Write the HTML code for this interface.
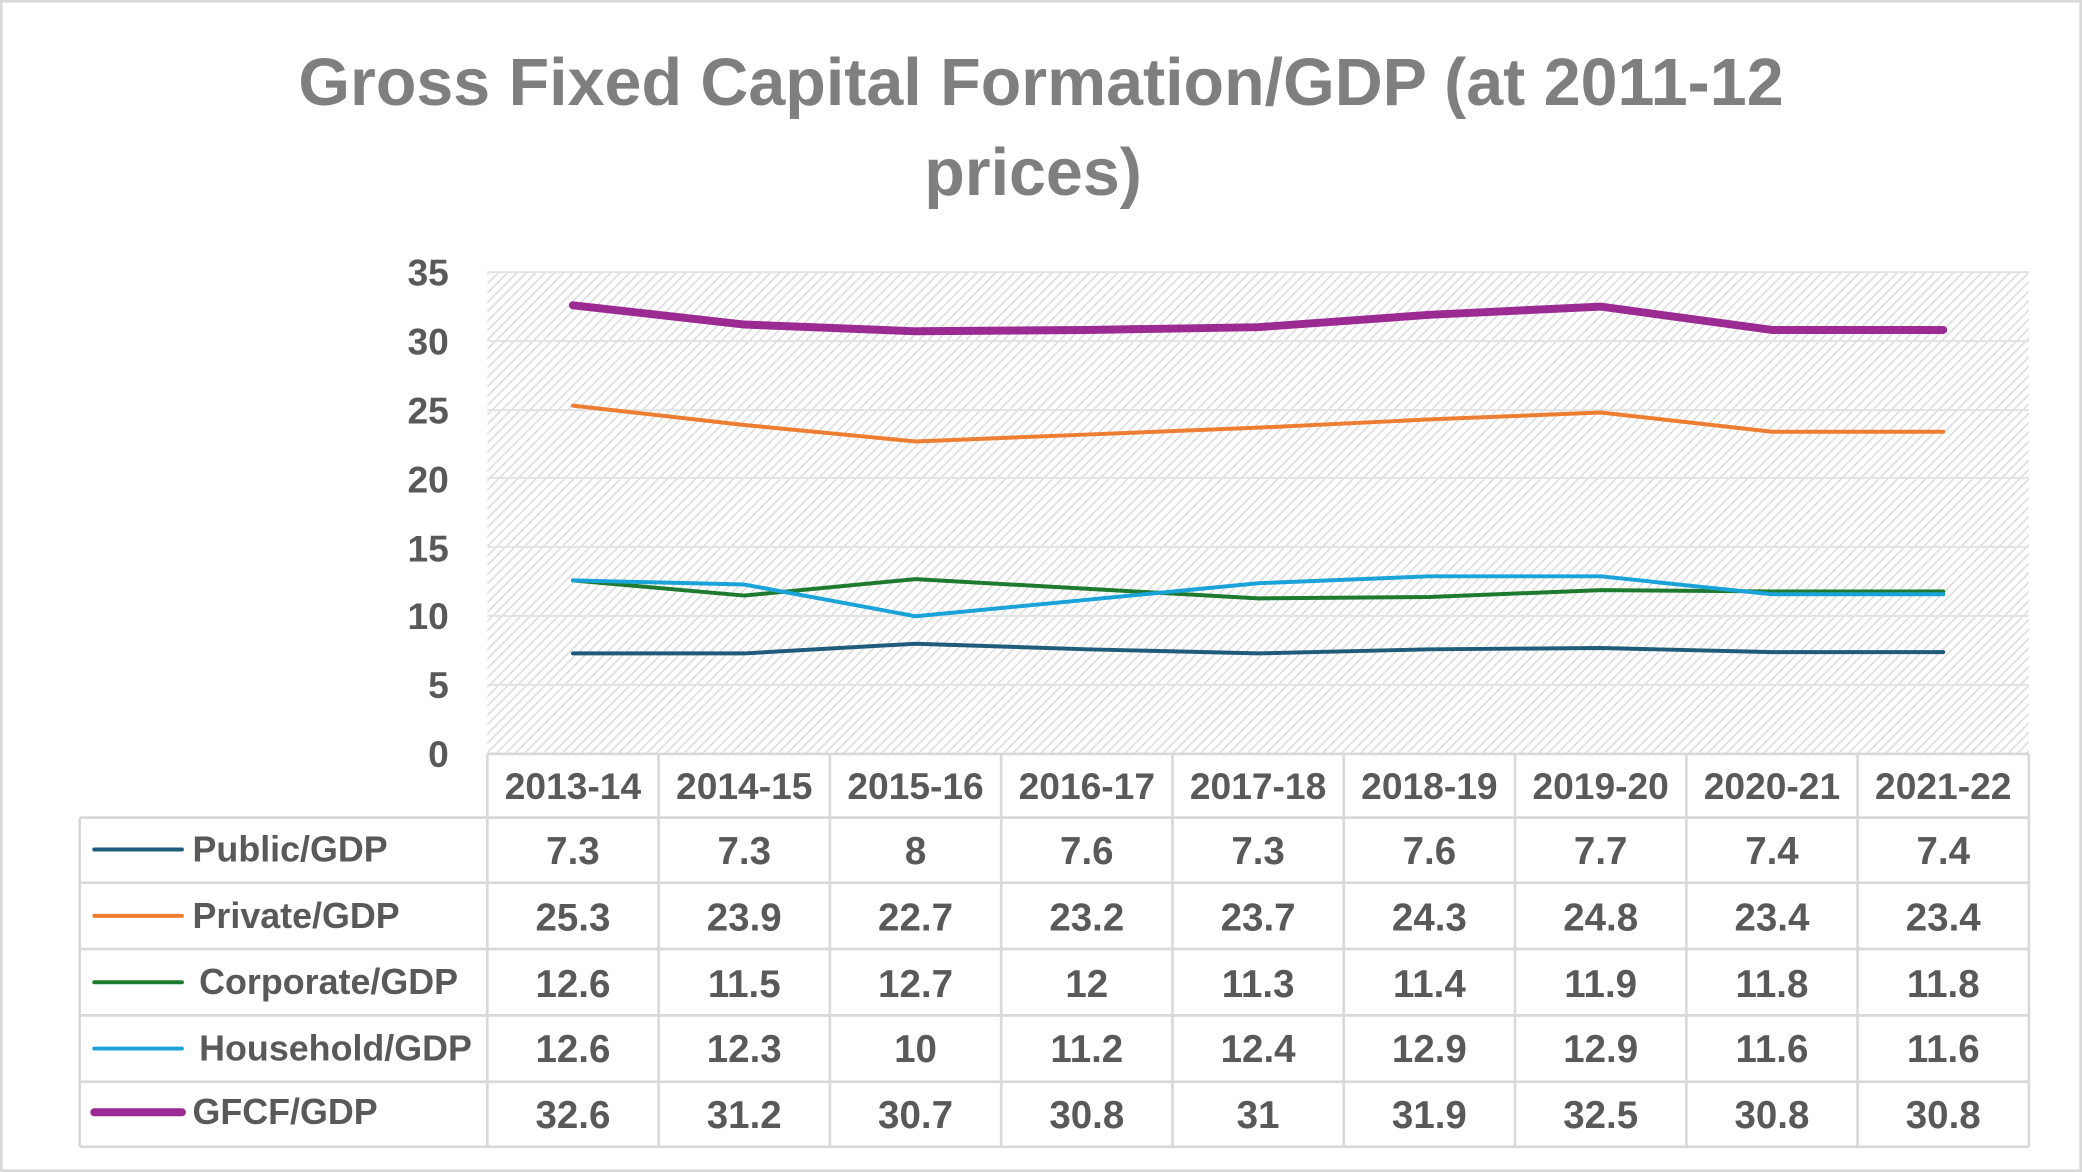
<!DOCTYPE html>
<html><head><meta charset="utf-8"><style>
html,body{margin:0;padding:0;background:#fff}
svg{display:block}
text{font-family:"Liberation Sans",Arial,sans-serif;font-weight:bold;fill:#595959}
</style></head><body>
<svg width="2082" height="1172" viewBox="0 0 1568 883" preserveAspectRatio="none" xmlns="http://www.w3.org/2000/svg">
<defs>
<pattern id="h" width="5" height="5" patternUnits="userSpaceOnUse" patternTransform="rotate(45)">
<rect width="5" height="5" fill="#fff"/><rect width="1.2" height="5" fill="#dcdcdc"/>
</pattern>
</defs>
<rect x="1" y="1" width="1566" height="881" fill="#fff" stroke="#d9d9d9" stroke-width="2"/>
<text x="784" y="79" font-size="50" text-anchor="middle" style="fill:#7f7f7f">Gross Fixed Capital Formation/GDP (at 2011-12</text>
<text x="778" y="147" font-size="50" text-anchor="middle" style="fill:#7f7f7f">prices)</text>
<rect x="367" y="205" width="1161" height="363" fill="url(#h)"/>
<g stroke="#e3e3e3" stroke-width="1.5">
<line x1="367" y1="205" x2="1528" y2="205"/><line x1="367" y1="257" x2="1528" y2="257"/>
<line x1="367" y1="309" x2="1528" y2="309"/><line x1="367" y1="360" x2="1528" y2="360"/>
<line x1="367" y1="412" x2="1528" y2="412"/><line x1="367" y1="464" x2="1528" y2="464"/>
<line x1="367" y1="516" x2="1528" y2="516"/>
</g>
<g font-size="28" text-anchor="end">
<text x="338" y="215">35</text><text x="338" y="267">30</text><text x="338" y="319">25</text>
<text x="338" y="371">20</text><text x="338" y="423">15</text><text x="338" y="474">10</text>
<text x="338" y="526">5</text><text x="338" y="578">0</text>
</g>
<g fill="none" stroke-linejoin="round" stroke-linecap="round">
<polyline stroke="#1f5c7a" stroke-width="3" points="431.5,492.3 560.5,492.3 689.5,485 818.5,489.2 947.5,492.3 1076.5,489.2 1205.5,488.2 1334.5,491.3 1463.5,491.3"/>
<polyline stroke="#ed7d31" stroke-width="3" points="431.5,305.6 560.5,320.2 689.5,332.6 818.5,327.4 947.5,322.2 1076.5,316 1205.5,310.8 1334.5,325.3 1463.5,325.3"/>
<polyline stroke="#1e7a2e" stroke-width="3" points="431.5,437.3 560.5,448.7 689.5,436.3 818.5,443.6 947.5,450.8 1076.5,449.8 1205.5,444.6 1334.5,445.6 1463.5,445.6"/>
<polyline stroke="#1aa3d9" stroke-width="3" points="431.5,437.3 560.5,440.4 689.5,464.3 818.5,451.9 947.5,439.4 1076.5,434.2 1205.5,434.2 1334.5,447.7 1463.5,447.7"/>
<polyline stroke="#9b2a93" stroke-width="6" points="431.5,230 560.5,244.5 689.5,249.6 818.5,248.6 947.5,246.5 1076.5,237.2 1205.5,231 1334.5,248.6 1463.5,248.6"/>
</g>
<g stroke="#d9d9d9" stroke-width="2" fill="none">
<line x1="367" y1="568" x2="1528" y2="568"/>
<line x1="60" y1="616" x2="1528" y2="616"/><line x1="60" y1="665" x2="1528" y2="665"/>
<line x1="60" y1="715" x2="1528" y2="715"/><line x1="60" y1="765" x2="1528" y2="765"/>
<line x1="60" y1="815" x2="1528" y2="815"/><line x1="60" y1="864" x2="1528" y2="864"/>
<line x1="60" y1="616" x2="60" y2="864"/>
<line x1="367" y1="568" x2="367" y2="864"/><line x1="496" y1="568" x2="496" y2="864"/>
<line x1="625" y1="568" x2="625" y2="864"/><line x1="754" y1="568" x2="754" y2="864"/>
<line x1="883" y1="568" x2="883" y2="864"/><line x1="1012" y1="568" x2="1012" y2="864"/>
<line x1="1141" y1="568" x2="1141" y2="864"/><line x1="1270" y1="568" x2="1270" y2="864"/>
<line x1="1399" y1="568" x2="1399" y2="864"/><line x1="1528" y1="568" x2="1528" y2="864"/>
</g>
<g font-size="28" text-anchor="middle">
<text x="431.5" y="602">2013-14</text><text x="560.5" y="602">2014-15</text><text x="689.5" y="602">2015-16</text>
<text x="818.5" y="602">2016-17</text><text x="947.5" y="602">2017-18</text><text x="1076.5" y="602">2018-19</text>
<text x="1205.5" y="602">2019-20</text><text x="1334.5" y="602">2020-21</text><text x="1463.5" y="602">2021-22</text>
</g>
<g stroke-linecap="round">
<line x1="71" y1="640" x2="137" y2="640" stroke="#1f5c7a" stroke-width="3"/>
<line x1="71" y1="690" x2="137" y2="690" stroke="#ed7d31" stroke-width="3"/>
<line x1="71" y1="740" x2="137" y2="740" stroke="#1e7a2e" stroke-width="3"/>
<line x1="71" y1="790" x2="137" y2="790" stroke="#1aa3d9" stroke-width="3"/>
<line x1="71" y1="838" x2="137" y2="838" stroke="#9b2a93" stroke-width="6"/>
</g>
<g font-size="27">
<text x="145" y="649">Public/GDP</text><text x="145" y="699">Private/GDP</text>
<text x="150" y="749">Corporate/GDP</text><text x="150" y="799">Household/GDP</text>
<text x="145" y="847">GFCF/GDP</text>
</g>
<g font-size="29" text-anchor="middle">
<text x="431.5" y="651">7.3</text><text x="560.5" y="651">7.3</text><text x="689.5" y="651">8</text><text x="818.5" y="651">7.6</text><text x="947.5" y="651">7.3</text><text x="1076.5" y="651">7.6</text><text x="1205.5" y="651">7.7</text><text x="1334.5" y="651">7.4</text><text x="1463.5" y="651">7.4</text>
<text x="431.5" y="701">25.3</text><text x="560.5" y="701">23.9</text><text x="689.5" y="701">22.7</text><text x="818.5" y="701">23.2</text><text x="947.5" y="701">23.7</text><text x="1076.5" y="701">24.3</text><text x="1205.5" y="701">24.8</text><text x="1334.5" y="701">23.4</text><text x="1463.5" y="701">23.4</text>
<text x="431.5" y="751">12.6</text><text x="560.5" y="751">11.5</text><text x="689.5" y="751">12.7</text><text x="818.5" y="751">12</text><text x="947.5" y="751">11.3</text><text x="1076.5" y="751">11.4</text><text x="1205.5" y="751">11.9</text><text x="1334.5" y="751">11.8</text><text x="1463.5" y="751">11.8</text>
<text x="431.5" y="800">12.6</text><text x="560.5" y="800">12.3</text><text x="689.5" y="800">10</text><text x="818.5" y="800">11.2</text><text x="947.5" y="800">12.4</text><text x="1076.5" y="800">12.9</text><text x="1205.5" y="800">12.9</text><text x="1334.5" y="800">11.6</text><text x="1463.5" y="800">11.6</text>
<text x="431.5" y="850">32.6</text><text x="560.5" y="850">31.2</text><text x="689.5" y="850">30.7</text><text x="818.5" y="850">30.8</text><text x="947.5" y="850">31</text><text x="1076.5" y="850">31.9</text><text x="1205.5" y="850">32.5</text><text x="1334.5" y="850">30.8</text><text x="1463.5" y="850">30.8</text>
</g>
</svg>
</body></html>
